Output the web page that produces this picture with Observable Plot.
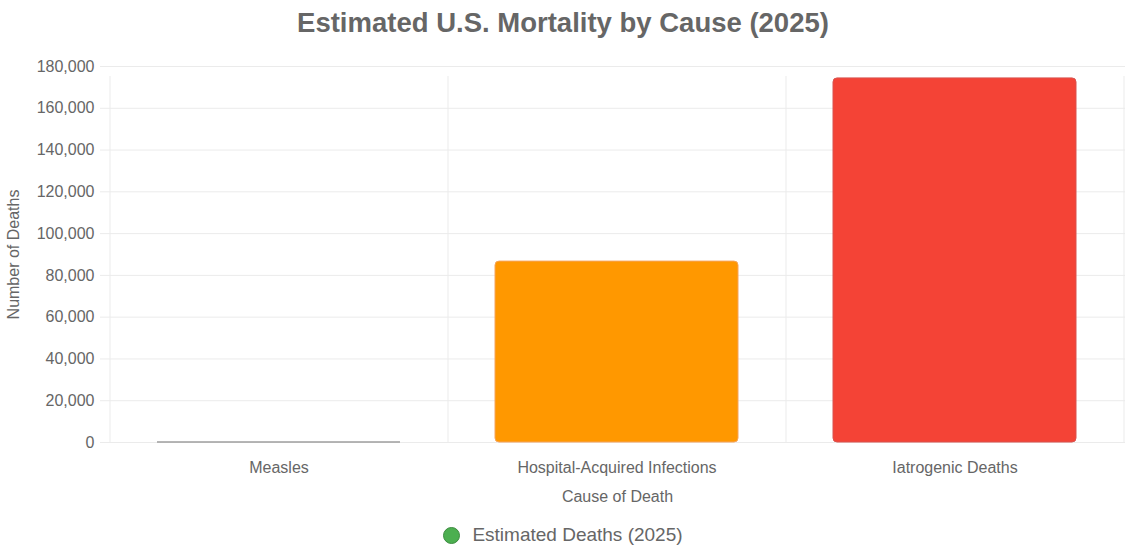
<!DOCTYPE html>
<html>
<head>
<meta charset="utf-8">
<script src="https://cdn.jsdelivr.net/npm/d3@7"></script>
<script src="https://cdn.jsdelivr.net/npm/@observablehq/plot@0.6"></script>
<style>
  html, body { margin: 0; padding: 0; background: #fff; }
  body { width: 1126px; height: 560px; overflow: hidden; font-family: "Liberation Sans", Arial, Helvetica, sans-serif; color: #666; }
  #title { height: 52px; line-height: 46px; text-align: center; font-size: 27.5px; font-weight: bold; color: #666; }
  #chart svg { display: block; }
  #legend { height: 50px; display: flex; justify-content: center; align-items: center; font-size: 19px; color: #666; }
  #legend .dot { width: 15px; height: 15px; border-radius: 50%; background: #4CAF50; border: 1px solid #3d8b40; margin-right: 12px; }
</style>
</head>
<body>
<div id="title">Estimated U.S. Mortality by Cause (2025)</div>
<div id="chart"></div>
<div id="legend"><span class="dot"></span><span>Estimated Deaths (2025)</span></div>
<script>
const causes = ["Measles", "Hospital-Acquired Infections", "Iatrogenic Deaths"];
const deaths = [3, 86600, 174300];
const barColors = ["#9E9E9E", "#FF9800", "#F44336"];
const barBorders = ["#9E9E9E", "#F5A45C", "#D9534F"];
const yTicks = d3.range(0, 180001, 20000);
const seriesName = "Estimated Deaths (2025)";

const data = causes.map((c, i) => ({cause: c, deaths: deaths[i], color: barColors[i], border: barBorders[i]}));

const gridColor = "#ebebeb";

function build(step) {
  const marks = [
    Plot.ruleY(yTicks, {stroke: gridColor, insetLeft: -9}),
    Plot.axisY({ticks: yTicks, tickSize: 0, tickPadding: 15, tickFormat: d3.format(","),
      label: "Number of Deaths", labelAnchor: "center", labelArrow: "none", labelOffset: 102}),
    Plot.axisX({tickSize: 0, tickPadding: 19, label: "Cause of Death", labelAnchor: "center", labelArrow: "none", labelOffset: 59}),
    Plot.barY(data, {x: "cause", y: "deaths", fill: "color", stroke: "border", strokeWidth: 1, rx: 4}),
  ];
  if (step) {
    marks.unshift(
      Plot.ruleX(causes, {x: d => d, y1: 0, y2: 180000, dx: -step / 2, stroke: gridColor, insetBottom: -10}),
      Plot.ruleX(causes.slice(-1), {x: d => d, y1: 0, y2: 180000, dx: step / 2, stroke: gridColor, insetBottom: -10})
    );
  }
  return Plot.plot({
    width: 1126,
    height: 458,
    marginTop: 14,
    marginBottom: 68,
    marginLeft: 109,
    marginRight: 1,
    style: {fontSize: "16px", fontFamily: "'Liberation Sans', Arial, Helvetica, sans-serif", color: "#666", background: "#fff"},
    x: {domain: causes, paddingInner: 0.28, paddingOuter: 0.14},
    y: {domain: [0, 180000]},
    color: {type: "identity"},
    marks
  });
}

const first = build(0);
const step = first.scale("x").step;
document.getElementById("chart").append(build(step));
</script>
</body>
</html>
